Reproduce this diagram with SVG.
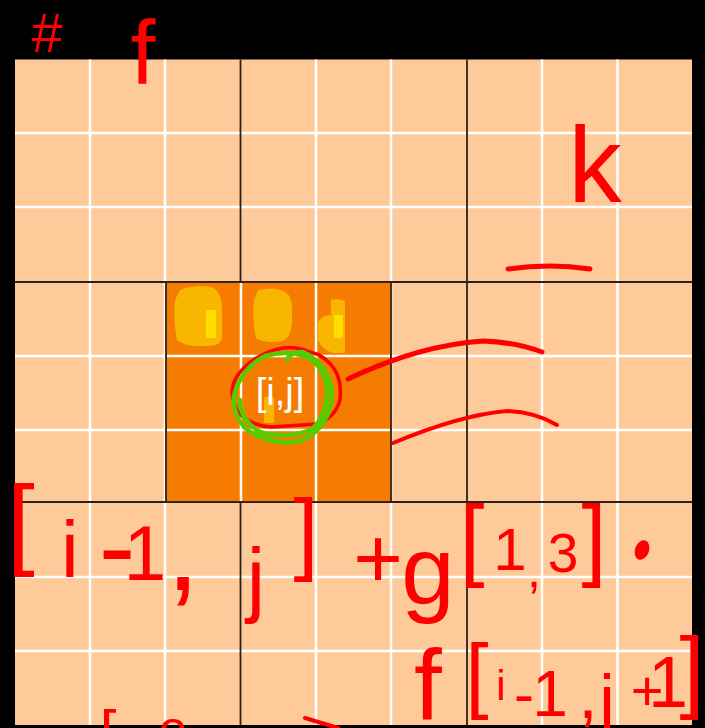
<svg xmlns="http://www.w3.org/2000/svg" width="705" height="728" viewBox="0 0 705 728">
<style>
.w{stroke:#FFFFFF;stroke-width:2.5;fill:none}
.b{stroke:#2A2218;stroke-width:1.8;fill:none}
.hw{fill:#FF0000;font-family:"Liberation Sans",Arial,sans-serif;text-anchor:middle}
.ink{stroke:#FF0000;fill:none;stroke-linecap:round;stroke-linejoin:round}
.blob{fill:#F8B600}
.lt{fill:#FFDD00}
</style>
<rect x="0" y="0" width="705" height="728" fill="#000000"/>
<g id="grid">
<rect x="15" y="59.5" width="677" height="665.5" fill="#FFCA99"/>
<path class="w" d="M90 59.5V725M165 59.5V725M316 59.5V725M391 59.5V725M542 59.5V725M617.5 59.5V725M15 133H692M15 207H692M15 356H692M15 430H692M15 577H692M15 651H692"/>
<path class="b" d="M240.5 59.5V725M467 59.5V725M15 282H692M15 502H692"/>
</g>
<g id="center-block">
<rect x="166" y="282" width="225" height="220" fill="#F57C00" stroke="#2A2218" stroke-width="1.8"/>
<path class="w" d="M241 283V501M316 283V501M167 356H390M167 430H390"/>
<path class="blob" d="M180 290Q195 284 212 287Q222 292 222 310V338Q220 347 205 346Q185 347 177 340Q173 320 175 300Z"/>
<rect class="lt" x="206" y="310" width="10" height="28"/>
<path class="blob" d="M258 290Q275 286 285 292Q293 296 292 315Q293 336 283 341Q265 344 256 338Q252 320 254 300Z"/>
<path class="blob" d="M318 322Q324 314 331 315L331 300Q338 298 345 301V353H333Q322 350 318 340Z"/>
<rect class="lt" x="334" y="315" width="9" height="23"/>
<rect x="264" y="397" width="10" height="26" fill="#F8B600"/>
<text x="280" y="405" font-family="Liberation Sans,Arial,sans-serif" font-size="38" fill="#FFFFFF" text-anchor="middle">[i,j]</text>
</g>
<g id="marks">
<path class="ink" stroke-width="3.5" d="M283 348Q262 352 247 365Q232 378 232 393Q234 408 240 414Q252 426 272 427L317 424Q335 418 340 400Q342 382 335 370Q325 355 310 352Q295 346 283 348Z"/>
<path stroke="#55CC00" stroke-width="4.5" fill="none" stroke-linecap="round" d="M287 360Q290 352 303 352Q326 362 332 390Q332 428 300 441Q270 447 245 428Q230 410 235 392Q242 368 265 356Q285 350 305 356Q325 366 327 390Q326 420 310 430Q285 440 260 432Q240 420 240 400"/>
<path class="ink" stroke-width="5" d="M348 379Q420 345 483 341Q515 342 542 352"/>
<path class="ink" stroke-width="4" d="M393 443Q460 415 507 411Q535 412 557 425"/>
<path class="ink" stroke-width="5" d="M508 269Q550 263 590 269"/>
<ellipse cx="642" cy="550" rx="7" ry="10" transform="rotate(20 642 550)" fill="#FF0000"/>
<path class="ink" stroke-width="4" d="M305 718L338 728"/>
</g>
<g id="handwriting">
<text class="hw"><tspan x="47" y="52" font-size="56">#</tspan><tspan x="143" y="84" font-size="90">f</tspan></text>
<text class="hw" x="595" y="202" font-size="107">k</text>
<text class="hw"><tspan x="21" y="556" font-size="100">[</tspan><tspan x="70" y="577" font-size="80">i</tspan><tspan x="117" y="584" font-size="110">-</tspan><tspan x="145" y="580" font-size="77">1</tspan><tspan x="183" y="590" font-size="120">,</tspan><tspan x="256" y="607" font-size="83">j</tspan><tspan x="306" y="563" font-size="90">]</tspan><tspan x="378" y="588" font-size="85">+</tspan><tspan x="428" y="604" font-size="96">g</tspan><tspan x="472" y="569" font-size="90">[</tspan><tspan x="510" y="570" font-size="60">1</tspan><tspan x="534" y="587" font-size="50">,</tspan><tspan x="563" y="572" font-size="55">3</tspan><tspan x="594" y="569" font-size="90">]</tspan></text>
<text class="hw"><tspan x="428" y="720" font-size="100">f</tspan><tspan x="477" y="703" font-size="83">[</tspan><tspan x="501" y="700" font-size="42">i</tspan><tspan x="524" y="714" font-size="60">-</tspan><tspan x="550" y="716" font-size="64">1</tspan><tspan x="588" y="718" font-size="70">,</tspan><tspan x="607" y="724" font-size="70">j</tspan><tspan x="647" y="710" font-size="56">+</tspan><tspan x="668" y="707" font-size="72">1</tspan><tspan x="692" y="701" font-size="90">]</tspan></text>
<text class="hw"><tspan x="108" y="752" font-size="60">[</tspan><tspan x="173" y="746" font-size="50">o</tspan></text>
</g>
</svg>
